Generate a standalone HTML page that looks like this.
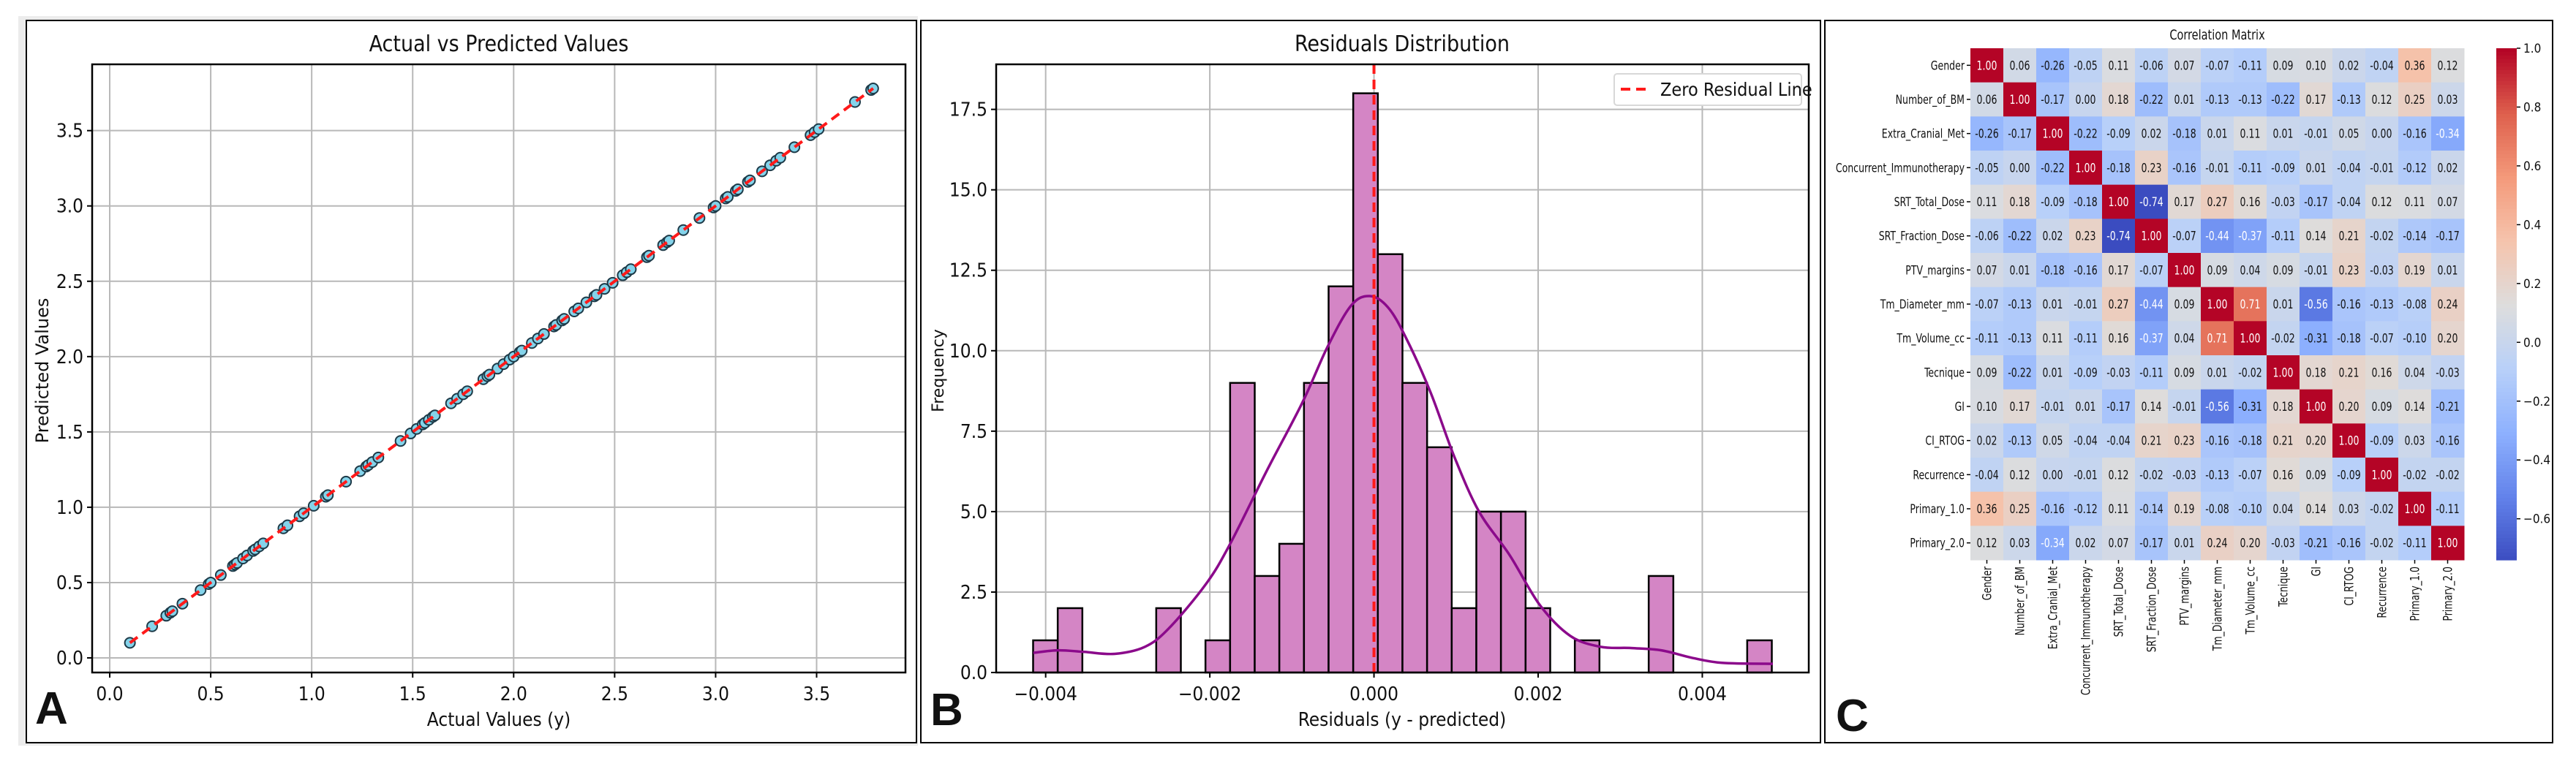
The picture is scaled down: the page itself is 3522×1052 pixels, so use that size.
<!DOCTYPE html>
<html><head><meta charset="utf-8">
<style>
html,body{margin:0;padding:0;background:#fff;}
svg{display:block;}
text{font-family:"Liberation Sans Narrow","DejaVu Sans Condensed","Liberation Sans",sans-serif;fill:#111;}
</style></head>
<body>
<svg id="fig" width="3522" height="1052" viewBox="0 0 3522 1052" xmlns="http://www.w3.org/2000/svg">
<rect x="0" y="0" width="3522" height="1052" fill="#fff"/>
<rect x="25" y="22" width="1230" height="998" fill="#ececec"/>
<rect x="36" y="28" width="1217" height="988" fill="#fff" stroke="#000" stroke-width="2"/>
<rect x="1259" y="28" width="1230" height="988" fill="#fff" stroke="#000" stroke-width="2"/>
<rect x="2495" y="28" width="995" height="988" fill="#fff" stroke="#000" stroke-width="2"/>
<g id="A"></g>
<g id="B"></g>
<g id="C"></g>
<text x="48" y="990" font-size="62" font-weight="bold" style="font-family:'Liberation Sans',sans-serif">A</text>
<text x="1272" y="992" font-size="62" font-weight="bold" style="font-family:'Liberation Sans',sans-serif">B</text>
<text x="2510" y="1000" font-size="62" font-weight="bold" style="font-family:'Liberation Sans',sans-serif">C</text>
</svg>
<script>
// ---------- Panel A data ----------
const actualVals = [0.10,0.21,0.28,0.30,0.31,0.36,0.45,0.49,0.50,0.55,0.61,0.62,0.62,0.63,0.66,0.68,0.71,0.72,0.74,0.76,0.86,0.88,0.94,0.96,1.01,1.07,1.08,1.17,1.24,1.27,1.28,1.30,1.33,1.44,1.49,1.52,1.55,1.56,1.58,1.60,1.61,1.69,1.72,1.75,1.77,1.85,1.87,1.88,1.92,1.95,1.98,2.00,2.03,2.04,2.09,2.12,2.15,2.20,2.21,2.24,2.25,2.30,2.32,2.36,2.40,2.41,2.45,2.49,2.54,2.56,2.58,2.66,2.67,2.74,2.76,2.77,2.84,2.92,2.99,3.00,3.05,3.06,3.10,3.11,3.16,3.17,3.23,3.27,3.30,3.32,3.39,3.47,3.49,3.51,3.69,3.77,3.78];
const predictedVals = [0.10,0.21,0.28,0.30,0.31,0.36,0.45,0.49,0.50,0.55,0.61,0.62,0.62,0.63,0.66,0.68,0.71,0.72,0.74,0.76,0.86,0.88,0.94,0.96,1.01,1.07,1.08,1.17,1.24,1.27,1.28,1.30,1.33,1.44,1.49,1.52,1.55,1.56,1.58,1.60,1.61,1.69,1.72,1.75,1.77,1.85,1.87,1.88,1.92,1.95,1.98,2.00,2.03,2.04,2.09,2.12,2.15,2.20,2.21,2.24,2.25,2.30,2.32,2.36,2.40,2.41,2.45,2.49,2.54,2.56,2.58,2.66,2.67,2.74,2.76,2.77,2.84,2.92,2.99,3.00,3.05,3.06,3.10,3.11,3.16,3.17,3.23,3.27,3.30,3.32,3.39,3.47,3.49,3.51,3.69,3.77,3.78];
const aTicks = [0,0.5,1,1.5,2,2.5,3,3.5];
const aTickLabels = ["0.0","0.5","1.0","1.5","2.0","2.5","3.0","3.5"];
// ---------- Panel B data ----------
const binCounts = [1,2,0,0,0,2,0,1,9,3,4,9,12,18,13,9,7,2,5,5,2,0,1,0,0,3,0,0,0,1];
const binStart = -0.004153;
const binWidth = 0.0003;
const kdeX = [-0.00415,-0.00385,-0.00353,-0.00316,-0.00279,-0.00250,-0.00205,-0.00176,-0.00131,-0.00087,-0.00057,-0.00028,-0.00005,0.00017,0.00039,0.00069,0.00098,0.00128,0.00165,0.00202,0.00239,0.00276,0.00313,0.00350,0.00387,0.00424,0.00486];
const kdeY = [0.61,0.69,0.64,0.58,0.80,1.37,2.74,3.96,6.25,8.4,10.1,11.4,11.7,11.35,10.4,8.7,6.7,5.0,3.66,2.1,1.14,0.8,0.76,0.69,0.46,0.3,0.27];
const bXTicks = [-0.004,-0.002,0,0.002,0.004];
const bXTickLabels = ["\u22120.004","\u22120.002","0.000","0.002","0.004"];
const bYTicks = [0,2.5,5,7.5,10,12.5,15,17.5];
const bYTickLabels = ["0.0","2.5","5.0","7.5","10.0","12.5","15.0","17.5"];
// ---------- Panel C data ----------
const varNames = ["Gender","Number_of_BM","Extra_Cranial_Met","Concurrent_Immunotherapy","SRT_Total_Dose","SRT_Fraction_Dose","PTV_margins","Tm_Diameter_mm","Tm_Volume_cc","Tecnique","GI","CI_RTOG","Recurrence","Primary_1.0","Primary_2.0"];
const corrRows = [
[1.00,0.06,-0.26,-0.05,0.11,-0.06,0.07,-0.07,-0.11,0.09,0.10,0.02,-0.04,0.36,0.12],
[0.06,1.00,-0.17,-0.00,0.18,-0.22,0.01,-0.13,-0.13,-0.22,0.17,-0.13,0.12,0.25,0.03],
[-0.26,-0.17,1.00,-0.22,-0.09,0.02,-0.18,0.01,0.11,0.01,-0.01,0.05,-0.00,-0.16,-0.34],
[-0.05,-0.00,-0.22,1.00,-0.18,0.23,-0.16,-0.01,-0.11,-0.09,0.01,-0.04,-0.01,-0.12,0.02],
[0.11,0.18,-0.09,-0.18,1.00,-0.74,0.17,0.27,0.16,-0.03,-0.17,-0.04,0.12,0.11,0.07],
[-0.06,-0.22,0.02,0.23,-0.74,1.00,-0.07,-0.44,-0.37,-0.11,0.14,0.21,-0.02,-0.14,-0.17],
[0.07,0.01,-0.18,-0.16,0.17,-0.07,1.00,0.09,0.04,0.09,-0.01,0.23,-0.03,0.19,0.01],
[-0.07,-0.13,0.01,-0.01,0.27,-0.44,0.09,1.00,0.71,0.01,-0.56,-0.16,-0.13,-0.08,0.24],
[-0.11,-0.13,0.11,-0.11,0.16,-0.37,0.04,0.71,1.00,-0.02,-0.31,-0.18,-0.07,-0.10,0.20],
[0.09,-0.22,0.01,-0.09,-0.03,-0.11,0.09,0.01,-0.02,1.00,0.18,0.21,0.16,0.04,-0.03],
[0.10,0.17,-0.01,0.01,-0.17,0.14,-0.01,-0.56,-0.31,0.18,1.00,0.20,0.09,0.14,-0.21],
[0.02,-0.13,0.05,-0.04,-0.04,0.21,0.23,-0.16,-0.18,0.21,0.20,1.00,-0.09,0.03,-0.16],
[-0.04,0.12,-0.00,-0.01,0.12,-0.02,-0.03,-0.13,-0.07,0.16,0.09,-0.09,1.00,-0.02,-0.02],
[0.36,0.25,-0.16,-0.12,0.11,-0.14,0.19,-0.08,-0.10,0.04,0.14,0.03,-0.02,1.00,-0.11],
[0.12,0.03,-0.34,0.02,0.07,-0.17,0.01,0.24,0.20,-0.03,-0.21,-0.16,-0.02,-0.11,1.00]];
const cbTicks = [1.0,0.8,0.6,0.4,0.2,0.0,-0.2,-0.4,-0.6];
const cbTickLabels = ["1.0","0.8","0.6","0.4","0.2","0.0","\u22120.2","\u22120.4","\u22120.6"];
const corrMin = -0.74, corrMax = 1.0;

const NS = "http://www.w3.org/2000/svg";
function mk(parent, tag, attrs, txt){
  const e = document.createElementNS(NS, tag);
  for (const k in attrs) e.setAttribute(k, attrs[k]);
  if (txt !== undefined) e.textContent = txt;
  parent.appendChild(e);
  return e;
}

// ================= Panel A =================
(function(){
  const g = document.getElementById('A');
  const L=126,R=1238,T=88,B=920;
  const x0=-0.087,x1=3.94,y0=-0.097,y1=3.94;
  const sx = v => L+(v-x0)/(x1-x0)*(R-L);
  const sy = v => B-(v-y0)/(y1-y0)*(B-T);
  aTicks.forEach((t,i)=>{
    let gl = mk(g,'line',{x1:sx(t),x2:sx(t),y1:T,y2:B,stroke:'#b8b8b8','stroke-width':2});
    
    
    let gl2 = mk(g,'line',{x1:L,x2:R,y1:sy(t),y2:sy(t),stroke:'#b8b8b8','stroke-width':2});
    
    
    mk(g,'line',{x1:sx(t),x2:sx(t),y1:B,y2:B+7,stroke:'#000','stroke-width':2});
    mk(g,'line',{x1:L-7,x2:L,y1:sy(t),y2:sy(t),stroke:'#000','stroke-width':2});
    let xl = mk(g,'text',{x:sx(t),y:B+38,'font-size':26,'text-anchor':'middle'},aTickLabels[i]);
    
    
    let yl = mk(g,'text',{x:L-12,y:sy(t)+9,'font-size':26,'text-anchor':'end'},aTickLabels[i]);
    
    
  });
  const mn = Math.min(...actualVals), mx = Math.max(...actualVals);
  actualVals.forEach((v,i)=>{
    const c = mk(g,'circle',{cx:sx(v),cy:sy(predictedVals[i]),r:7,fill:'#84d3ea',stroke:'#1d3a48','stroke-width':2});
    
    
  });
  const ln = mk(g,'line',{x1:sx(mn),y1:sy(mn),x2:sx(mx),y2:sy(mx),stroke:'#ff1a1a','stroke-width':4,'stroke-dasharray':'13,8'});
  
  
  const fr = mk(g,'rect',{x:L,y:T,width:R-L,height:B-T,fill:'none',stroke:'#000','stroke-width':2.5});
  
  
  const tt = mk(g,'text',{x:(L+R)/2,y:70,'font-size':30,'text-anchor':'middle'},'Actual vs Predicted Values');
  
  
  const xt = mk(g,'text',{x:(L+R)/2,y:993,'font-size':26,'text-anchor':'middle'},'Actual Values (y)');
  
  
  const yt = mk(g,'text',{x:0,y:0,'font-size':24,'text-anchor':'middle',transform:'translate(66,507) rotate(-90)',style:"font-family:'DejaVu Sans',sans-serif"},'Predicted Values');
  
  
})();

// ================= Panel B =================
(function(){
  const g = document.getElementById('B');
  const L=1362,R=2473,T=88,B=920;
  const x0=-0.004603,x1=0.005297,y0=0,y1=18.9;
  const sx = v => L+(v-x0)/(x1-x0)*(R-L);
  const sy = v => B-(v-y0)/(y1-y0)*(B-T);
  bXTicks.forEach((t,i)=>{
    let gl = mk(g,'line',{x1:sx(t),x2:sx(t),y1:T,y2:B,stroke:'#b8b8b8','stroke-width':2});
    
    
    mk(g,'line',{x1:sx(t),x2:sx(t),y1:B,y2:B+7,stroke:'#000','stroke-width':2});
    let xl = mk(g,'text',{x:sx(t),y:B+38,'font-size':26,'text-anchor':'middle'},bXTickLabels[i]);
    
    
  });
  bYTicks.forEach((t,i)=>{
    let gl = mk(g,'line',{x1:L,x2:R,y1:sy(t),y2:sy(t),stroke:'#b8b8b8','stroke-width':2});
    
    
    mk(g,'line',{x1:L-7,x2:L,y1:sy(t),y2:sy(t),stroke:'#000','stroke-width':2});
    let yl = mk(g,'text',{x:L-12,y:sy(t)+9,'font-size':26,'text-anchor':'end'},bYTickLabels[i]);
    
    
  });
  binCounts.forEach((c,i)=>{
    if (c<=0) return;
    const a = binStart+i*binWidth, b = a+binWidth;
    const r = mk(g,'rect',{x:sx(a),y:sy(c),width:sx(b)-sx(a),height:sy(0)-sy(c),fill:'#d485c5',stroke:'#000','stroke-width':2.5});
    
    
  });
  // smooth Catmull-Rom path through KDE samples
  const P = kdeX.map((v,i)=>[sx(v),sy(kdeY[i])]);
  let d='M'+P[0][0].toFixed(1)+','+P[0][1].toFixed(1);
  for(let i=0;i<P.length-1;i++){
    const p0=P[Math.max(0,i-1)],p1=P[i],p2=P[i+1],p3=P[Math.min(P.length-1,i+2)];
    const c1=[p1[0]+(p2[0]-p0[0])/6,p1[1]+(p2[1]-p0[1])/6];
    const c2=[p2[0]-(p3[0]-p1[0])/6,p2[1]-(p3[1]-p1[1])/6];
    d+='C'+c1[0].toFixed(1)+','+c1[1].toFixed(1)+' '+c2[0].toFixed(1)+','+c2[1].toFixed(1)+' '+p2[0].toFixed(1)+','+p2[1].toFixed(1);
  }
  const kp = mk(g,'path',{d:d,fill:'none',stroke:'#8b0a8b','stroke-width':3.5,'stroke-linejoin':'round'});
  
  
  const zl = mk(g,'line',{x1:sx(0),x2:sx(0),y1:T,y2:B,stroke:'#ff1a1a','stroke-width':4,'stroke-dasharray':'13,8'});
  
  
  const fr = mk(g,'rect',{x:L,y:T,width:R-L,height:B-T,fill:'none',stroke:'#000','stroke-width':2.5});
  
  
  const lg = mk(g,'g',{});
  
  
  mk(lg,'rect',{x:2207,y:101,width:256,height:43,rx:4,fill:'#fff',stroke:'#d8d8d8','stroke-width':2});
  mk(lg,'line',{x1:2216,x2:2252,y1:122,y2:122,stroke:'#ff1a1a','stroke-width':4,'stroke-dasharray':'13,8'});
  const lt = mk(lg,'text',{x:2270,y:131,'font-size':25},'Zero Residual Line');
  
  
  const tt = mk(g,'text',{x:1917,y:70,'font-size':30,'text-anchor':'middle'},'Residuals Distribution');
  
  
  const xt = mk(g,'text',{x:1917,y:993,'font-size':26,'text-anchor':'middle'},'Residuals (y - predicted)');
  
  
  const yt = mk(g,'text',{x:0,y:0,'font-size':22,'text-anchor':'middle',transform:'translate(1290,507) rotate(-90)',style:"font-family:'DejaVu Sans',sans-serif"},'Frequency');
  
  
})();

// ================= Panel C =================
(function(){
  const g = document.getElementById('C');
  const stops = [[0,59,76,192],[0.125,98,130,234],[0.25,141,176,254],[0.375,184,208,249],[0.5,221,221,221],[0.625,245,196,173],[0.75,244,154,123],[0.875,222,96,77],[1,180,4,38]];
  function cmap(t){
    t=Math.max(0,Math.min(1,t));
    for(let i=1;i<stops.length;i++){
      if(t<=stops[i][0]){
        const a=stops[i-1],b=stops[i],f=(t-a[0])/(b[0]-a[0]);
        return [a[1]+(b[1]-a[1])*f,a[2]+(b[2]-a[2])*f,a[3]+(b[3]-a[3])*f];
      }
    }
    return stops[stops.length-1].slice(1);
  }
  function lum(c){
    const f=v=>{v/=255;return v<=0.03928?v/12.92:Math.pow((v+0.055)/1.055,2.4);};
    return 0.2126*f(c[0])+0.7152*f(c[1])+0.0722*f(c[2]);
  }
  const L=2694,T=66,W=675,H=700;
  const n=varNames.length, cw=W/n, ch=H/n;
  const SX=0.82;
  corrRows.forEach((row,r)=>{
    row.forEach((v,c)=>{
      const col=cmap((v-corrMin)/(corrMax-corrMin));
      const rc = mk(g,'rect',{x:L+c*cw,y:T+r*ch,width:cw+0.5,height:ch+0.5,fill:'rgb('+col.map(Math.round).join(',')+')'});
      
      
      const tx = mk(g,'text',{x:0,y:0,'font-size':17,'text-anchor':'middle',transform:'translate('+(L+c*cw+cw/2)+','+(T+r*ch+ch/2+6)+') scale('+SX+',1)',style:'fill:'+(lum(col)>0.408?'#111':'#fff')},v.toFixed(2));
      
      
    });
  });
  varNames.forEach((nm,i)=>{
    const y=T+i*ch+ch/2;
    mk(g,'line',{x1:L-5,x2:L,y1:y,y2:y,stroke:'#000','stroke-width':1.5});
    const rl = mk(g,'text',{x:0,y:0,'font-size':17,'text-anchor':'end',transform:'translate('+(L-8)+','+(y+6)+') scale('+SX+',1)'},nm);
    
    
    const x=L+i*cw+cw/2;
    mk(g,'line',{x1:x,x2:x,y1:T+H,y2:T+H+5,stroke:'#000','stroke-width':1.5});
    const cl = mk(g,'text',{x:0,y:0,'font-size':17,'text-anchor':'end',transform:'translate('+(x+6)+','+(T+H+9)+') rotate(-90) scale('+SX+',1)'},nm);
    
    
  });
  const tt = mk(g,'text',{x:0,y:0,'font-size':19,'text-anchor':'middle',transform:'translate('+(L+W/2)+',54) scale(0.85,1)'},'Correlation Matrix');
  
  
  // colorbar
  const cbx=3413,cbw=28;
  const N=140;
  for(let k=0;k<N;k++){
    const v0=corrMax-(corrMax-corrMin)*k/N;
    const col=cmap((v0-corrMin)/(corrMax-corrMin));
    const s = mk(g,'rect',{x:cbx,y:T+H*k/N,width:cbw,height:H/N+0.6,fill:'rgb('+col.map(Math.round).join(',')+')'});
    
    
  }
  const cyOf = v => T+(corrMax-v)/(corrMax-corrMin)*H;
  cbTicks.forEach((t,i)=>{
    const y=cyOf(t);
    mk(g,'line',{x1:cbx+cbw,x2:cbx+cbw+5,y1:y,y2:y,stroke:'#000','stroke-width':1.5});
    const cl = mk(g,'text',{x:cbx+cbw+9,y:y+6,'font-size':17},cbTickLabels[i]);
    
    
  });
})();
</script>
</body></html>
